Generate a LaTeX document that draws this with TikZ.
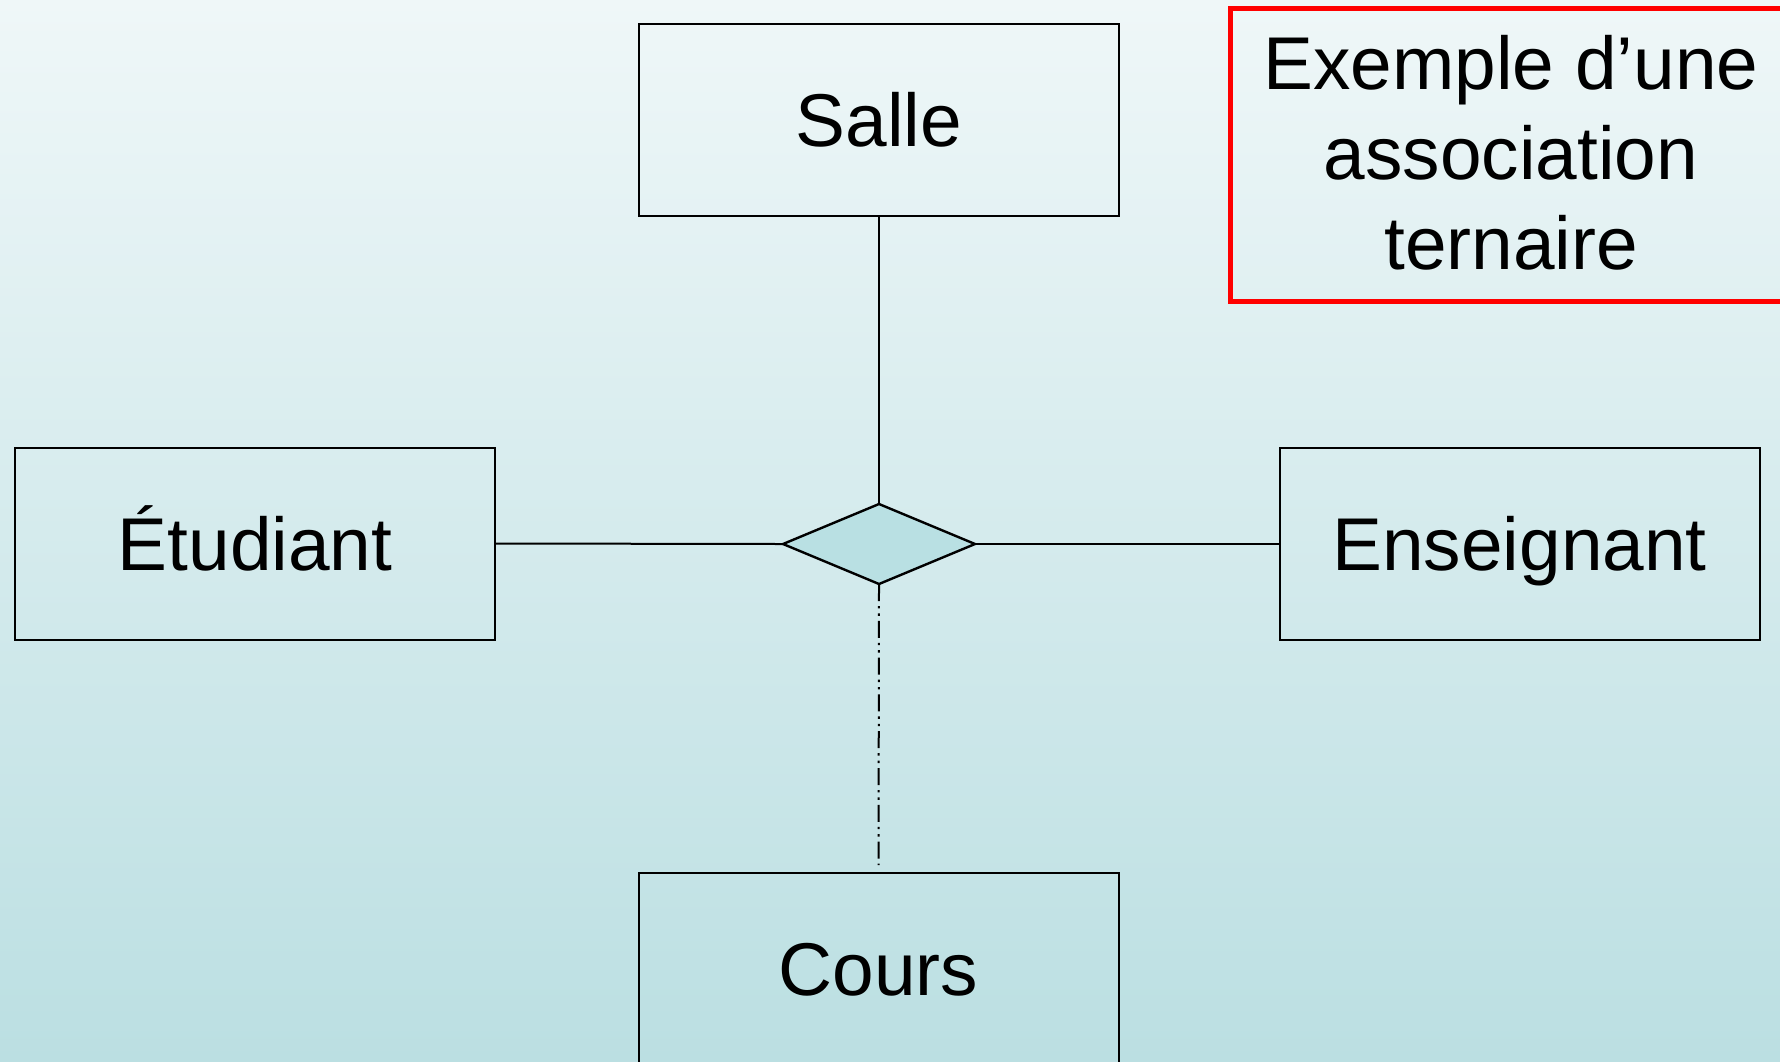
\documentclass[tikz,border=0pt]{standalone}
\usepackage{fontspec}
\setmainfont{Liberation Sans}
\usetikzlibrary{shapes.geometric}
\definecolor{bgtop}{HTML}{EFF7F8}
\definecolor{bgbot}{HTML}{BBDFE2}
\definecolor{relfill}{HTML}{B9E0E3}
\definecolor{notered}{HTML}{FF0000}

\begin{document}
\begin{tikzpicture}[x=0.5pt,y=-0.5pt,
  entity/.style={draw=black, line width=1pt, minimum width=240pt,
    minimum height=96pt, inner sep=0pt, outer sep=0pt,
    text height=26.8pt, text depth=0pt,
    font=\fontsize{37.4}{44}\selectfont},
  relation/.style={diamond, draw=black, fill=relfill, line width=1.2pt,
    minimum width=96pt, minimum height=40pt, inner sep=0pt, outer sep=0pt},
  notebox/.style={draw=notered, line width=2.5pt, inner sep=0pt, outer sep=0pt},
  notetext/.style={align=center, inner sep=0pt,
    font=\fontsize{37.4}{45}\selectfont},
  link/.style={draw=black, line width=1.3pt},
  thinlink/.style={draw=black, line width=1pt},
  dashdotdot/.style={draw=black, line width=1pt,
    dash pattern=on 8.5pt off 2.5pt on 1.2pt off 2.5pt on 1.2pt off 2.5pt}]

% backdrop with vertical gradient
\path[use as bounding box, top color=bgtop, bottom color=bgbot]
  (0,0) rectangle (1780,1061);
\clip (0,0) rectangle (1780,1061);

% entities
\node[entity] (salle) at (879,120) {Salle};
\node[entity] (etud)  at (255,543.5) {Étudiant};
\node[entity] (ens)   at (1519.5,544) {Enseignant};
\node[entity] (cours) at (878.5,969) {Cours};

% ternary relationship
\node[relation] (rel) at (879,544) {};

% connectors
\draw[link] (salle.south) -- (rel.north);
\draw[thinlink] (etud.east) -- (rel.west);
\draw[link] (rel.east) -- (ens.west);
\draw[dashdotdot, shorten >=4pt] (rel.south) -- (cours.north);

% caption box
\node[notebox, minimum width=285pt, minimum height=146.75pt, anchor=north west]
  (note) at (1230,8) {};
\node[notetext] (notelabel) at (1511,153)
  {Exemple d’une\\association\\ternaire};
\end{tikzpicture}
\end{document}
